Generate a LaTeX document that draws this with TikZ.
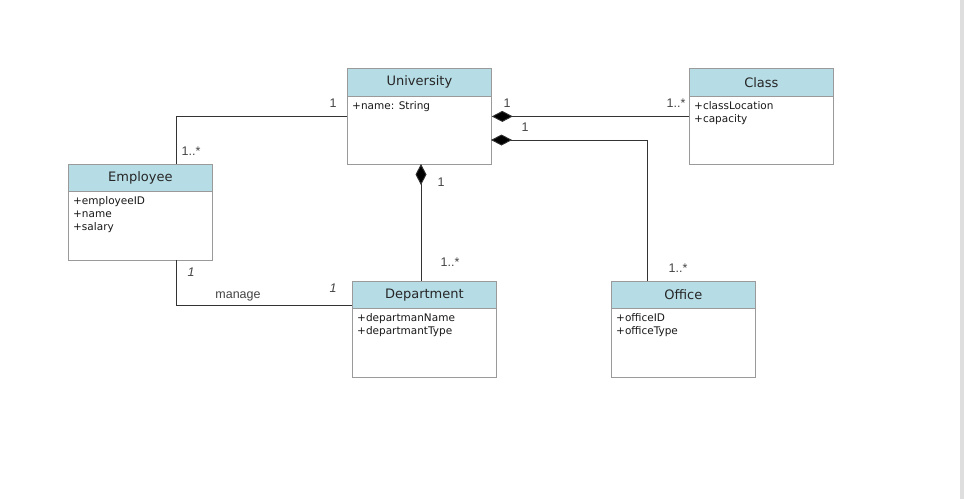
\documentclass[tikz,border=0pt]{standalone}
\usepackage{fontspec}
\setmainfont{DejaVu Sans}
\newfontfamily\lblfont{Liberation Sans}
\usetikzlibrary{arrows.meta}
\definecolor{hdr}{HTML}{B6DCE6}
\definecolor{bdr}{HTML}{9A9A9A}
\definecolor{ln}{HTML}{333333}
\definecolor{lbl}{HTML}{444444}
\tikzset{
  umlbox/.style={draw=bdr, line width=0.8pt, fill=white, minimum width=144pt, minimum height=96pt, anchor=north west, inner sep=0pt},
  hdrbox/.style={draw=bdr, line width=0.8pt, fill=hdr, minimum width=144pt, minimum height=28pt, anchor=north west, inner sep=0pt, font=\fontsize{13}{15}\selectfont, text=black!85},
  attr/.style={anchor=north west, inner sep=0pt, align=left, font=\fontsize{10.5}{13}\selectfont, text=black!90},
  conn/.style={draw=ln, line width=0.9pt},
  mult/.style={inner sep=0pt, font=\lblfont\fontsize{12.5}{14}\selectfont, text=lbl},
  comp/.style={conn, {Diamond[length=21pt, width=11pt, fill=black]}-}
}
\begin{document}
\begin{tikzpicture}[x=1pt, y=-1pt]
\useasboundingbox (0,0) rectangle (964,499);
\fill[white] (0,0) rectangle (964,499);
\fill[black!13] (960,0) rectangle (964,499);
% University
\node[umlbox] (univ) at (347,68) {};
\node[hdrbox] (univh) at (347,68) {University};
\node[attr] (univa) at (352,101) {+name: String};
% Class
\node[umlbox] (cls) at (689,68) {};
\node[hdrbox] (clsh) at (689,68) {Class};
\node[attr] (clsa) at (694,101) {+classLocation\\+capacity};
% Employee
\node[umlbox] (emp) at (68,164) {};
\node[hdrbox, minimum height=27pt] (emph) at (68,164) {Employee};
\node[attr] (empa) at (73,196) {+employeeID\\+name\\+salary};
% Department
\node[umlbox] (dept) at (352,281) {};
\node[hdrbox, minimum height=27pt] (depth) at (352,281) {Department};
\node[attr] (depta) at (357,313) {+departmanName\\+departmantType};
% Office
\node[umlbox] (off) at (611,281) {};
\node[hdrbox, minimum height=27pt] (offh) at (611,281) {Office};
\node[attr] (offa) at (616,313) {+officeID\\+officeType};
% coordinates
\coordinate (ue) at (176,164);
\coordinate (u2) at (491,140);
\coordinate (ub) at (421,164);
\coordinate (dt) at (421,281);
\coordinate (eb) at (176,260);
\coordinate (dl) at (352,305);
\coordinate (ot) at (647,281);
% connectors
\draw[conn] (univ.west) -| (ue);
\draw[comp] (univ.east) -- (cls.west);
\draw[comp] (u2) -| (ot);
\draw[comp] (ub) -- (dt);
\draw[conn] (eb) |- (dl);
% labels
\node[mult] (l1) at (333,103) {1};
\node[mult] (l2) at (191,151) {1..*};
\node[mult] (l3) at (507,103) {1};
\node[mult] (l4) at (676,103) {1..*};
\node[mult] (l5) at (525,127) {1};
\node[mult] (l6) at (678,268) {1..*};
\node[mult] (l7) at (441,182) {1};
\node[mult] (l8) at (450,262) {1..*};
\node[mult, font=\lblfont\itshape\fontsize{12.5}{14}\selectfont] (l9) at (191,272) {1};
\node[mult] (l10) at (238,296) {manage};
\node[mult, font=\lblfont\itshape\fontsize{12.5}{14}\selectfont] (l11) at (333,288) {1};
\end{tikzpicture}
\end{document}
